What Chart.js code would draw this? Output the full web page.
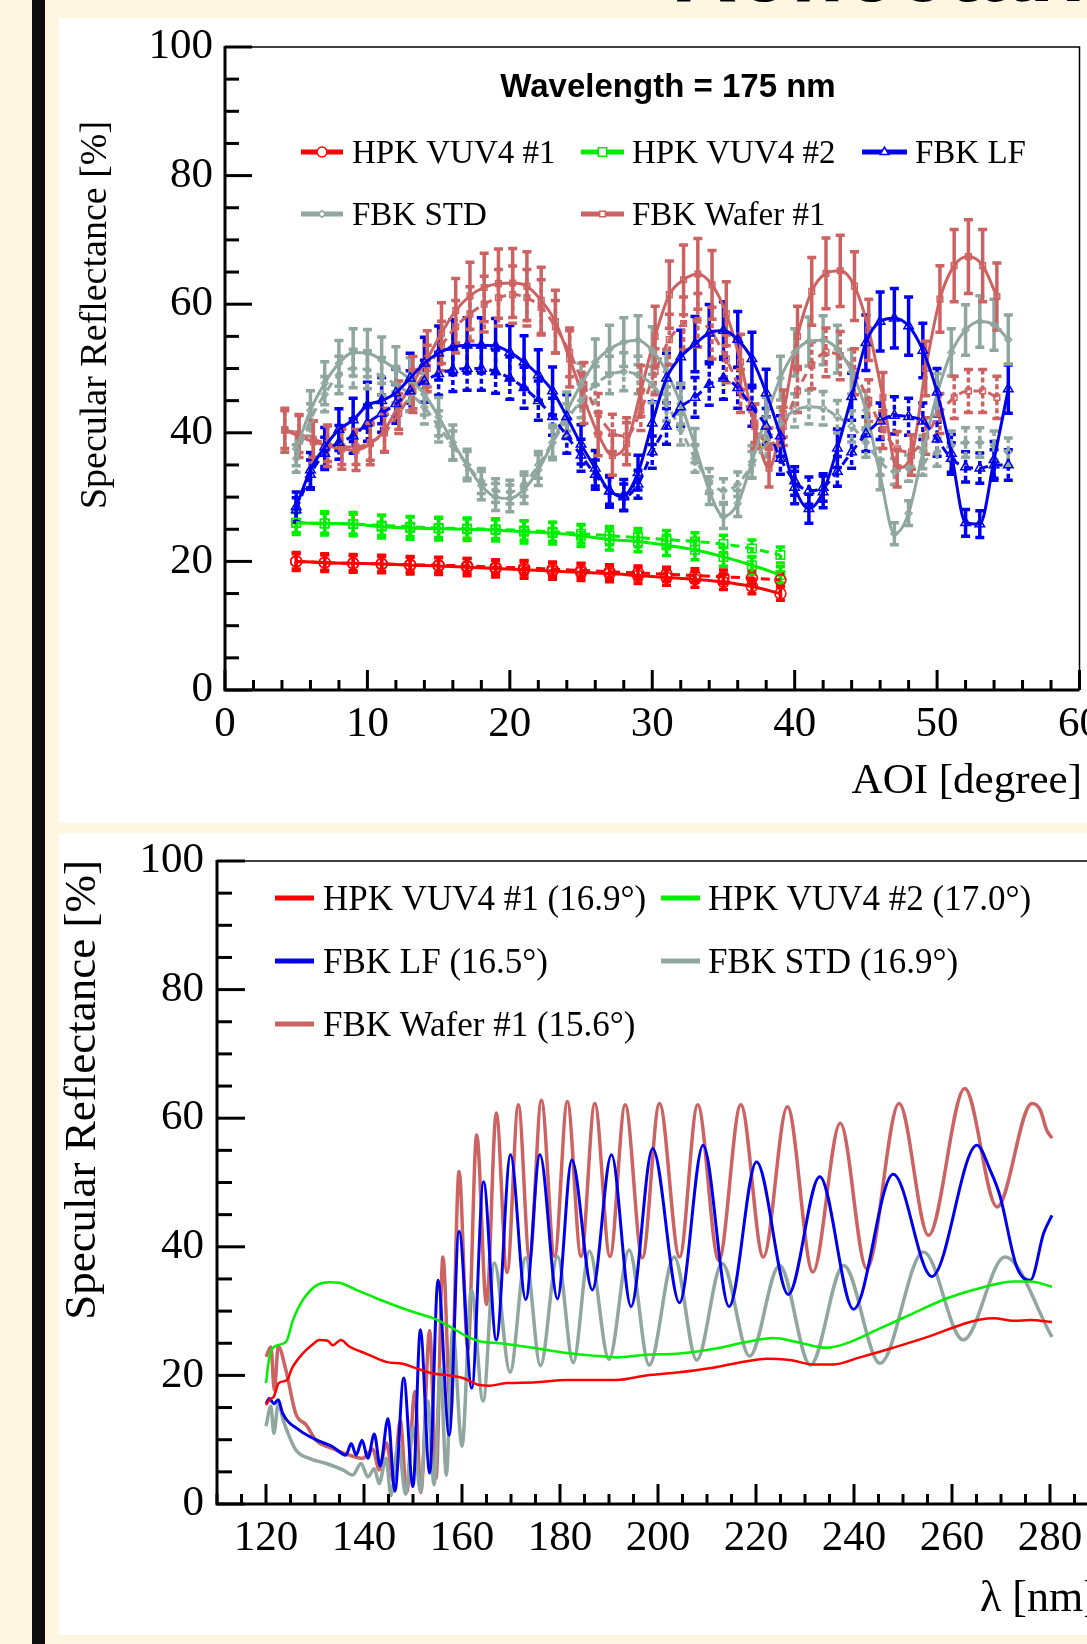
<!DOCTYPE html>
<html><head><meta charset="utf-8">
<script src="https://cdn.jsdelivr.net/npm/chart.js@4.4.1/dist/chart.umd.min.js"></script>
<style>
html,body{margin:0;padding:0;}
body{width:1087px;height:1644px;overflow:hidden;position:relative;background:#fef6e1;}
#bar{position:absolute;left:32px;top:0;width:13px;height:1644px;background:#0d0d0d;}
#head{position:absolute;left:671px;top:-77px;font:bold 92px "Liberation Sans",Arial,sans-serif;line-height:92px;color:#000;white-space:nowrap;}
.panel{position:absolute;left:59px;background:#fff;overflow:hidden;}
#p1{top:18px;width:1028px;height:805px;}
#p2{top:833px;width:1028px;height:802px;}
canvas{position:absolute;left:0;top:0;}
</style></head><body>
<div id="head">Reflectance</div>
<div id="bar"></div>
<div class="panel" id="p1"><canvas id="c1" width="1028" height="805"></canvas></div>
<div class="panel" id="p2"><canvas id="c2" width="1046" height="802"></canvas></div>
<script>
// ---------- colours ----------
const RED = '#ff0000', GREEN = '#00ee00', BLUE = '#0000ee', GRAY = '#8fa79f', SALMON = '#cd6262';

// ---------- top chart: reflectance vs AOI at 175 nm ----------
const aoiTicks = [0, 10, 20, 30, 40, 50, 60];
const reflTicks = [0, 20, 40, 60, 80, 100];
const aoiHPK = [5, 7, 9, 11, 13, 15, 17, 19, 21, 23, 25, 27, 29, 31, 33, 35, 37, 39];
const aoiFBK = [5,6,7,8,9,10,11,12,13,14,15,16,17,18,19,20,21,22,23,24,25,26,27,28,29,30,31,32,33,34,35,36,37,38,39,40,41,42,43,44,45,46,47,48,49,50,51,52,53,54,55];
const aoiWafer = [4.2,5.2,6.2,7.2,8.2,9.2,10.2,11.2,12.2,13.2,14.2,15.2,16.2,17.2,18.2,19.2,20.2,21.2,22.2,23.2,24.2,25.2,26.2,27.2,28.2,29.2,30.2,31.2,32.2,33.2,34.2,35.2,36.2,37.2,38.2,39.2,40.2,41.2,42.2,43.2,44.2,45.2,46.2,47.2,48.2,49.2,50.2,51.2,52.2,53.2,54.2];

const hpk1Solid  = [20.0,19.8,19.7,19.6,19.4,19.3,19.1,18.9,18.7,18.5,18.3,18.1,17.8,17.5,17.2,16.8,16.1,15.0];
const hpk1Dashed = [20.0,19.8,19.7,19.6,19.5,19.4,19.3,19.1,19.0,18.8,18.6,18.4,18.2,18.0,17.8,17.6,17.4,17.1];
const hpk2Solid  = [26.0,25.9,25.8,25.4,25.2,25.1,25.0,24.9,24.6,24.4,24.0,23.4,23.1,22.5,21.8,20.7,19.4,17.9];
const hpk2Dashed = [26.0,25.9,25.8,25.6,25.4,25.2,25.1,25.0,24.8,24.6,24.3,24.0,23.7,23.4,23.1,22.7,22.0,21.0];
const lfSolid  = [28.5,34.2,37.8,40.5,42.0,44.3,45.0,46.2,48.5,50.8,52.4,53.3,53.6,53.6,53.5,52.5,51.0,49.0,46.5,42.5,38.2,34.5,30.9,30.3,33.8,41.5,48.5,51.8,53.8,55.5,55.9,54.5,51.5,46.2,39.5,31.5,28.2,30.8,37.6,45.6,54.0,57.3,57.8,56.6,52.8,46.3,36.8,26.0,25.8,35.8,46.8];
const lfDashed = [28.0,33.5,36.8,38.5,39.5,41.5,43.0,44.5,46.5,48.0,49.2,49.8,50.0,50.0,49.5,48.5,47.0,45.0,42.5,39.5,36.5,33.5,31.0,30.0,32.0,37.0,41.0,44.0,45.5,47.5,48.5,47.0,44.0,41.0,36.0,32.5,31.0,31.5,34.0,37.0,39.8,41.8,42.7,42.5,41.8,39.0,36.0,34.7,34.5,35.0,35.0];
const stdSolid  = [37.5,43.5,47.7,50.8,52.5,52.4,51.3,49.9,48.3,46.0,42.5,38.5,35.0,31.8,30.0,29.8,31.2,34.2,38.5,43.3,47.5,51.0,53.0,54.1,54.4,52.8,49.5,44.5,38.0,31.0,27.0,29.0,35.5,42.5,48.5,52.5,54.2,54.4,53.0,49.5,43.5,33.5,24.3,27.5,37.0,46.0,52.5,56.0,57.3,56.8,54.5];
const stdDashed = [36.0,42.0,46.0,49.0,50.0,49.8,48.8,47.5,46.0,44.0,41.0,38.0,35.0,32.5,31.0,30.8,32.0,35.0,38.5,42.0,45.0,47.5,49.0,49.5,49.0,47.5,44.5,40.5,36.0,32.5,31.0,32.0,35.0,38.5,41.5,43.5,44.0,43.8,42.5,41.0,38.5,35.5,34.0,34.5,35.5,37.0,38.0,38.5,38.5,38.0,37.0];
const waferSolid  = [40.4,39.5,38.6,38.0,37.5,37.3,38.3,40.4,44.3,47.8,51.5,55.5,59.0,61.3,62.6,63.2,63.3,62.8,60.6,57.3,51.5,45.3,39.8,36.5,38.3,46.5,55.0,61.5,63.8,64.7,63.0,58.5,51.0,41.0,34.5,43.0,55.0,62.0,64.8,65.2,62.8,56.0,45.5,34.5,36.5,50.0,60.8,66.0,67.4,66.0,61.2];
const waferDashed = [40.5,39.8,39.0,38.3,37.8,37.8,38.5,40.0,43.0,46.5,50.0,53.5,56.5,58.5,60.0,61.0,61.5,61.0,59.5,56.5,52.5,47.5,43.0,40.0,39.5,43.5,49.5,54.5,57.0,57.5,55.5,51.5,46.5,41.5,38.0,41.0,46.5,50.5,52.5,52.0,49.5,45.0,40.5,37.5,37.0,39.5,43.0,45.5,46.5,46.5,45.5];
// relative uncertainty of each sample's points
const relErrHPK = 0.07, relErrLF = 0.08, relErrSTD = 0.07, relErrWafer = 0.085;

// ---------- bottom chart: reflectance vs wavelength ----------
const lambdaTicks = [120, 140, 160, 180, 200, 220, 240, 260, 280];
const hpk1LamX = [120,120.7,121.6,122.6,124.3,125.3,127.5,129.5,130.9,132.6,133.6,135.3,137.0,140.4,144.5,147.9,150.7,154.1,157.5,160.2,163.6,165.6,169.0,174.5,181.3,186.0,191.5,197.6,204.4,211.2,218.1,222.2,226.9,231.7,235.8,241.2,248.0,255.5,262.3,265.8,268.5,272.6,276.0,280.4];
const hpk1LamY = [15.4,16.2,16.7,18.8,19.3,21.1,23.4,24.8,25.5,25.4,24.7,25.5,24.5,23.4,22.1,21.8,21.1,20.3,20.0,19.6,18.5,18.4,18.8,18.9,19.3,19.3,19.3,20.0,20.5,21.2,22.2,22.6,22.4,21.7,21.7,22.8,24.3,26.1,28.0,28.7,28.9,28.5,28.6,28.3];
const hpk2LamX = [120,120.7,122.4,124.1,125.5,127.5,130.3,133.0,135.0,138.4,142.5,146.6,150.7,154.1,157.5,160.9,163.6,167.7,174.5,181.3,188.1,191.5,197.6,204.4,211.2,218.1,223.5,228.3,234.4,238.5,245.3,252.2,259.0,265.8,272.6,276.0,280.4];
const hpk2LamY = [18.8,22.9,24.7,25.2,28.6,31.7,34.0,34.5,34.4,33.3,32.0,30.8,29.7,28.9,27.6,26.1,25.3,25.0,24.3,23.5,23.0,22.8,23.2,23.4,24.1,25.2,25.8,25.2,24.3,25.0,27.3,29.7,32.0,33.6,34.6,34.6,33.8];
const lfLamX = [120,120.7,121.6,122.5,123.4,126.8,130.2,133.6,136.3,137.4,138.4,139.6,140.8,142.1,143.3,144.9,146.3,148.1,150.0,151.5,153.4,155.1,157.4,159.4,162.0,164.4,167.0,169.9,173.0,175.9,179.5,182.4,186.6,190.5,194.5,198.9,204.4,209.2,214.5,220.1,226.6,233.0,239.9,248.0,255.9,265.1,267.8,269.8,273.2,276.0,278.7,280.4];
const lfLamY = [15.6,16.4,15.6,16.2,14.1,11.5,10.0,8.9,7.6,9.4,7.6,9.9,7.1,10.9,5.9,13.3,2.0,19.6,2.7,27.1,4.8,34.8,10.7,42.4,18.0,50.1,25.5,54.3,31.8,54.3,31.9,53.5,33.3,54.3,30.7,55.3,31.3,55.8,30.7,53.2,32.6,50.9,30.3,51.3,35.4,55.8,51.9,47.9,36.9,34.8,42.1,44.9];
const stdLamX = [120,121.0,121.6,122.5,123.7,126.1,128.8,132.3,135.7,137.7,139.4,140.8,142.1,143.1,144.5,145.5,147.0,148.5,150.0,151.5,153.0,154.3,155.6,156.8,158.1,160.0,161.9,164.3,166.6,169.8,173.0,176.0,179.5,182.7,186.0,190.0,194.1,198.2,203.3,207.9,213.1,218.7,224.8,231.1,237.9,245.3,254.2,262.3,270.8,280.4];
const stdLamY = [12.1,15.2,11.0,15.5,12.6,8.4,7.1,6.3,5.3,4.5,6.3,4.2,5.5,3.2,7.1,1.3,9.4,1.5,12.0,2.0,16.0,3.0,21.0,4.5,27.1,9.0,33.3,16.0,37.5,20.5,38.3,21.5,38.5,22.0,39.3,22.5,39.5,21.6,38.4,22.4,37.4,23.0,37.1,21.6,37.1,21.9,39.2,25.5,38.4,26.0];
const waferLamX = [120,121.0,121.7,122.5,124.1,126.1,128.2,130.2,133.6,137.0,139.7,141.8,143.1,144.6,146.0,147.4,148.7,150.4,151.6,153.4,154.7,156.1,157.7,159.4,161.2,163.0,165.0,167.0,169.2,171.5,173.8,176.2,178.9,181.5,184.3,187.1,190.2,193.3,196.8,200.3,204.4,208.1,212.4,216.9,221.5,226.4,231.6,237.2,242.6,249.2,255.2,262.6,269.2,276.3,278.0,279.3,280.4];
const waferLamY = [22.9,24.4,17.7,24.5,20.7,14.0,12.3,9.9,8.6,7.6,7.1,8.5,5.3,9.5,3.5,13.0,1.8,17.5,1.8,27.0,4.0,38.4,14.0,51.7,24.0,57.4,31.0,60.8,36.0,62.1,38.0,62.8,38.5,62.6,38.5,62.3,38.5,62.1,38.3,62.3,38.4,62.1,37.9,62.1,38.4,61.8,36.1,59.2,36.6,62.3,41.8,64.6,46.2,62.3,61.3,58.2,56.9];

// ---------- helpers ----------
const SERIF = '"Liberation Serif","Times New Roman",serif';
const SANS = '"Liberation Sans",Arial,sans-serif';
function pts(xs, ys) { const n = Math.min(xs.length, ys.length); const a = []; for (let i = 0; i < n; i++) a.push({x: xs[i], y: ys[i]}); return a; }

function framePlugin(o) {
  return {
    id: 'frame_' + o.name,
    afterDatasetsDraw(chart) {
      const {ctx, chartArea: {left, right, top, bottom}, scales: {x, y}} = chart;
      ctx.save();
      ctx.strokeStyle = '#000'; ctx.setLineDash([]);
      ctx.lineWidth = 1.5;
      ctx.beginPath(); ctx.moveTo(left, top); ctx.lineTo(right, top); ctx.lineTo(right, bottom); ctx.stroke();
      ctx.lineWidth = 3;
      ctx.beginPath(); ctx.moveTo(left, top - 1); ctx.lineTo(left, bottom); ctx.lineTo(right, bottom); ctx.stroke();
      ctx.lineWidth = 3;
      for (let v = y.min; v <= y.max + 1e-6; v += o.yMinor) {
        const p = y.getPixelForValue(v);
        const major = Math.abs(v % o.yMajor) < 1e-6;
        ctx.beginPath(); ctx.moveTo(left, p); ctx.lineTo(left + (major ? o.yMajLen : o.yMinLen), p); ctx.stroke();
      }
      for (let v = x.min; v <= x.max + 1e-6; v += o.xMinor) {
        const p = x.getPixelForValue(v);
        const major = Math.abs(v % o.xMajor) < 1e-6;
        ctx.beginPath(); ctx.moveTo(p, bottom); ctx.lineTo(p, bottom - (major ? o.xMajLen : o.xMinLen)); ctx.stroke();
      }
      ctx.restore();
    }
  };
}

const errorBarPlugin = {
  id: 'errorBars',
  beforeDatasetsDraw(chart) {
    const {ctx, chartArea: ca} = chart; const ys = chart.scales.y;
    ctx.save();
    ctx.beginPath(); ctx.rect(ca.left, ca.top, ca.right - ca.left, ca.bottom - ca.top); ctx.clip();
    chart.data.datasets.forEach((ds, i) => {
      if (!ds.relErr) return;
      const meta = chart.getDatasetMeta(i);
      ctx.strokeStyle = ds.borderColor; ctx.lineWidth = 3.5;
      meta.data.forEach((pt, j) => {
        const v = ds.data[j].y, e = v * ds.relErr;
        const yt = ys.getPixelForValue(v + e), yb = ys.getPixelForValue(v - e);
        ctx.setLineDash(ds.errDash);
        ctx.beginPath(); ctx.moveTo(pt.x, yt); ctx.lineTo(pt.x, yb); ctx.stroke();
        ctx.setLineDash([]);
        ctx.beginPath(); ctx.moveTo(pt.x - 4.5, yt); ctx.lineTo(pt.x + 4.5, yt); ctx.moveTo(pt.x - 4.5, yb); ctx.lineTo(pt.x + 4.5, yb); ctx.stroke();
      });
    });
    ctx.restore();
  }
};

function overlayPlugin(o) {
  return {
    id: 'overlay_' + o.name,
    afterDraw(chart) {
      const ctx = chart.ctx;
      ctx.save();
      ctx.setLineDash([]);
      o.legend.forEach(it => {
        ctx.strokeStyle = it.color; ctx.lineWidth = o.legendLine;
        ctx.beginPath(); ctx.moveTo(it.x1, it.y); ctx.lineTo(it.x2, it.y); ctx.stroke();
        if (it.marker) {
          ctx.fillStyle = '#fff'; ctx.strokeStyle = it.color; ctx.lineWidth = 1.5;
          Chart.helpers.drawPoint(ctx, {pointStyle: it.marker, radius: it.r, borderWidth: 1.5, rotation: 0}, (it.x1 + it.x2) / 2, it.y);
        }
        ctx.fillStyle = '#000'; ctx.font = o.legendFont; ctx.textAlign = 'left'; ctx.textBaseline = 'alphabetic';
        ctx.fillText(it.text, it.tx, it.y + o.legendBase);
      });
      o.texts.forEach(t => {
        ctx.save();
        ctx.fillStyle = '#000'; ctx.font = t.font; ctx.textAlign = t.align; ctx.textBaseline = 'alphabetic';
        ctx.translate(t.x, t.y);
        if (t.rot) ctx.rotate(t.rot);
        ctx.fillText(t.text, 0, 0);
        ctx.restore();
      });
      ctx.restore();
    }
  };
}

function axisOpts(min, max, ticks, size, which, pad, fontSize) {
  return {
    type: 'linear', min, max,
    grid: {display: false, drawTicks: false}, border: {display: false},
    afterBuildTicks: s => { s.ticks = ticks.map(v => ({value: v})); },
    afterFit: s => {
      if (which === 'x') s.height = size; else s.width = size;
      s.paddingLeft = 0; s.paddingRight = 0; s.paddingTop = 0; s.paddingBottom = 0;
    },
    ticks: {color: '#000', font: {family: SERIF, size: fontSize}, padding: pad, autoSkip: false, maxRotation: 0, minRotation: 0}
  };
}

// ---------- top chart ----------
const topSamples = [
  {name: 'HPK VUV4 #1', color: RED, marker: 'circle', r: 5.5, x: aoiHPK, solid: hpk1Solid, dashed: hpk1Dashed, err: relErrHPK},
  {name: 'HPK VUV4 #2', color: GREEN, marker: 'rect', r: 6, x: aoiHPK, solid: hpk2Solid, dashed: hpk2Dashed, err: relErrHPK},
  {name: 'FBK LF', color: BLUE, marker: 'triangle', r: 5.5, x: aoiFBK, solid: lfSolid, dashed: lfDashed, err: relErrLF},
  {name: 'FBK STD', color: GRAY, marker: 'rectRot', r: 3.5, x: aoiFBK, solid: stdSolid, dashed: stdDashed, err: relErrSTD},
  {name: 'FBK Wafer #1', color: SALMON, marker: 'rect', r: 4, x: aoiWafer, solid: waferSolid, dashed: waferDashed, err: relErrWafer}
];
const topDatasets = [];
topSamples.forEach(s => {
  const common = {borderColor: s.color, pointStyle: s.marker, pointRadius: s.r, pointBorderWidth: 1.5,
    pointBorderColor: s.color, pointBackgroundColor: 'rgba(255,255,255,0)', cubicInterpolationMode: 'monotone', borderWidth: 3, fill: false};
  topDatasets.push(Object.assign({label: s.name + ' (dashed)', data: pts(s.x, s.dashed), borderDash: [9, 6], relErr: s.err * 0.85, errDash: [5, 3]}, common));
  topDatasets.push(Object.assign({label: s.name, data: pts(s.x, s.solid), borderDash: [], relErr: s.err, errDash: []}, common));
});

new Chart(document.getElementById('c1'), {
  type: 'line',
  data: {datasets: topDatasets},
  options: {
    responsive: false, animation: false, devicePixelRatio: 1,
    layout: {padding: {left: 0, top: 29, right: 6, bottom: 0}},
    plugins: {legend: {display: false}, tooltip: {enabled: false}},
    scales: {x: axisOpts(0, 60, aoiTicks, 133, 'x', 9, 43), y: axisOpts(0, 100, reflTicks, 166, 'y', 12, 43)}
  },
  plugins: [errorBarPlugin,
    framePlugin({name: 'top', yMinor: 5, yMajor: 20, yMajLen: 27, yMinLen: 14, xMinor: 2, xMajor: 10, xMajLen: 20, xMinLen: 10}),
    overlayPlugin({name: 'top', legendLine: 5, legendFont: '33px ' + SERIF, legendBase: 11,
      legend: [
        {text: 'HPK VUV4 #1', color: RED, marker: 'circle', r: 5, x1: 242, x2: 284, tx: 293, y: 134},
        {text: 'HPK VUV4 #2', color: GREEN, marker: 'rect', r: 6, x1: 522, x2: 565, tx: 573, y: 134},
        {text: 'FBK LF', color: BLUE, marker: 'triangle', r: 5, x1: 803, x2: 848, tx: 856, y: 134},
        {text: 'FBK STD', color: GRAY, marker: 'rectRot', r: 3.5, x1: 242, x2: 284, tx: 293, y: 196},
        {text: 'FBK Wafer #1', color: SALMON, marker: 'rect', r: 4, x1: 522, x2: 565, tx: 573, y: 196}
      ],
      texts: [
        {text: 'Wavelength = 175 nm', font: 'bold 33px ' + SANS, align: 'center', x: 609, y: 79},
        {text: 'AOI [degree]', font: '43px ' + SERIF, align: 'right', x: 1023, y: 775},
        {text: 'Specular Reflectance [%]', font: '38px ' + SERIF, align: 'center', x: 47, y: 297, rot: -Math.PI / 2}
      ]})]
});

// ---------- bottom chart ----------
const bottomSeries = [
  {name: 'HPK VUV4 #1 (16.9°)', color: RED, x: hpk1LamX, y: hpk1LamY, w: 2.5},
  {name: 'HPK VUV4 #2 (17.0°)', color: GREEN, x: hpk2LamX, y: hpk2LamY, w: 2.5},
  {name: 'FBK LF (16.5°)', color: BLUE, x: lfLamX, y: lfLamY, w: 3},
  {name: 'FBK STD (16.9°)', color: GRAY, x: stdLamX, y: stdLamY, w: 3.5},
  {name: 'FBK Wafer #1 (15.6°)', color: SALMON, x: waferLamX, y: waferLamY, w: 3.5}
];
new Chart(document.getElementById('c2'), {
  type: 'line',
  data: {datasets: bottomSeries.map(s => ({label: s.name, data: pts(s.x, s.y), borderColor: s.color, borderWidth: s.w,
    pointRadius: 0, cubicInterpolationMode: 'monotone', fill: false}))},
  options: {
    responsive: false, animation: false, devicePixelRatio: 1,
    layout: {padding: {left: 0, top: 28, right: 6, bottom: 0}},
    plugins: {legend: {display: false}, tooltip: {enabled: false}},
    scales: {x: axisOpts(110, 290, lambdaTicks, 131, 'x', 9, 43), y: axisOpts(0, 100, reflTicks, 158, 'y', 13, 43)}
  },
  plugins: [
    framePlugin({name: 'bottom', yMinor: 5, yMajor: 20, yMajLen: 28, yMinLen: 15, xMinor: 5, xMajor: 20, xMajLen: 20, xMinLen: 10}),
    overlayPlugin({name: 'bottom', legendLine: 5, legendFont: '35px ' + SERIF, legendBase: 11.5,
      legend: [
        {text: 'HPK VUV4 #1 (16.9°)', color: RED, x1: 216, x2: 255, tx: 264, y: 65},
        {text: 'HPK VUV4 #2 (17.0°)', color: GREEN, x1: 602, x2: 641, tx: 649, y: 65},
        {text: 'FBK LF (16.5°)', color: BLUE, x1: 216, x2: 255, tx: 264, y: 128},
        {text: 'FBK STD (16.9°)', color: GRAY, x1: 602, x2: 641, tx: 649, y: 128},
        {text: 'FBK Wafer #1 (15.6°)', color: SALMON, x1: 216, x2: 255, tx: 264, y: 191}
      ],
      texts: [
        {text: 'λ [nm]', font: '44px ' + SERIF, align: 'left', x: 921, y: 778},
        {text: 'Specular Reflectance [%]', font: '45px ' + SERIF, align: 'center', x: 36, y: 257, rot: -Math.PI / 2}
      ]})]
});
</script>
</body></html>
